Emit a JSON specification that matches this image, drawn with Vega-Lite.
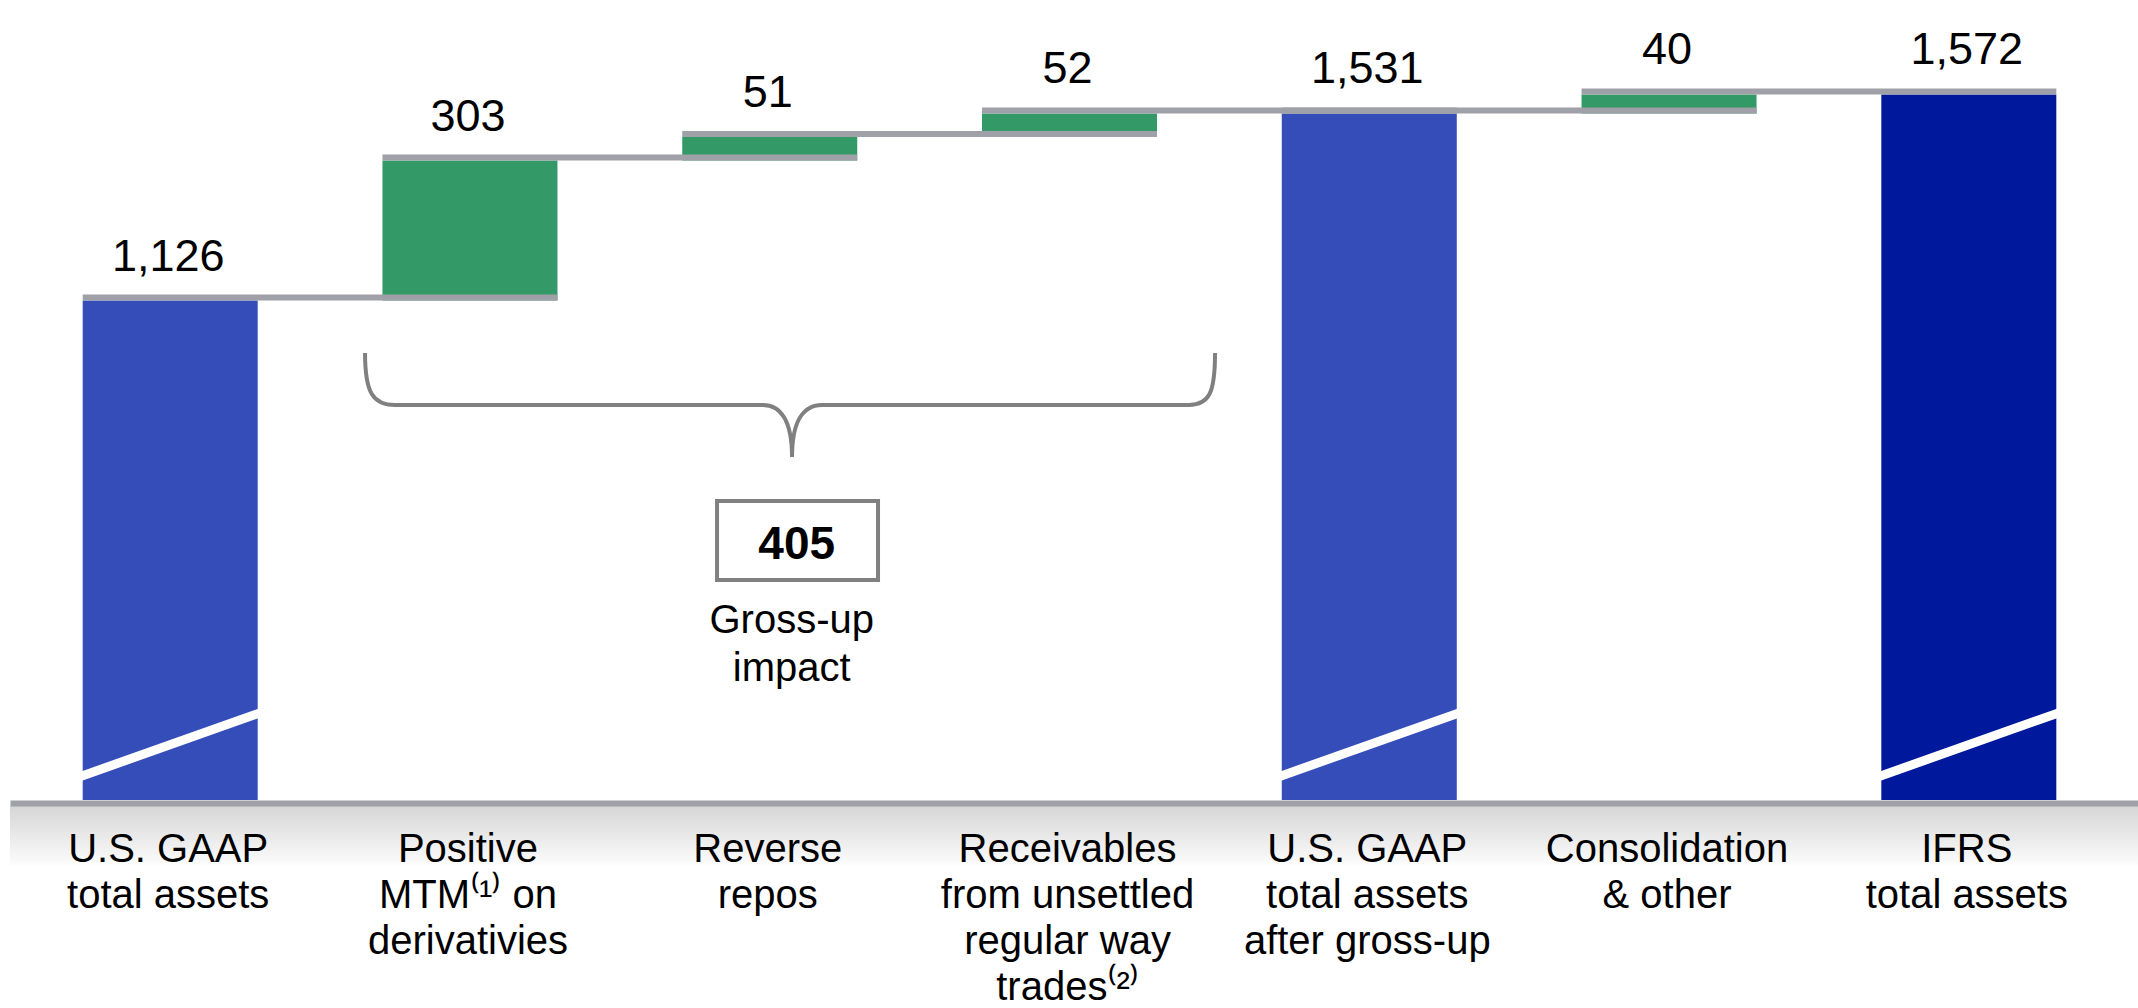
{
  "$schema": "https://vega.github.io/schema/vega-lite/v6.json",
  "width": 2128,
  "height": 800,
  "autosize": {"type": "none"},
  "padding": {"left": 10, "top": 0, "right": 0, "bottom": 208},
  "background": "#ffffff",
  "config": {"view": {"stroke": null}, "font": "Liberation Sans"},
  "datasets": {
    "steps": [
      {"label": "U.S. GAAP|total assets", "kind": "gaap", "start": 0, "end": 1126, "value": 1126, "next": "Positive|MTM⁽¹⁾ on|derivativies"},
      {"label": "Positive|MTM⁽¹⁾ on|derivativies", "kind": "increase", "start": 1126, "end": 1429, "value": 303, "next": "Reverse|repos"},
      {"label": "Reverse|repos", "kind": "increase", "start": 1429, "end": 1480, "value": 51, "next": "Receivables|from unsettled|regular way|trades⁽²⁾"},
      {"label": "Receivables|from unsettled|regular way|trades⁽²⁾", "kind": "increase", "start": 1480, "end": 1531, "value": 52, "next": "U.S. GAAP|total assets|after gross-up"},
      {"label": "U.S. GAAP|total assets|after gross-up", "kind": "gaap", "start": 0, "end": 1531, "value": 1531, "next": "Consolidation|& other"},
      {"label": "Consolidation|& other", "kind": "increase", "start": 1531, "end": 1572, "value": 40, "next": "IFRS|total assets"},
      {"label": "IFRS|total assets", "kind": "ifrs", "start": 0, "end": 1572, "value": 1572, "next": null}
    ],
    "note": [{"label": "Reverse|repos", "impact": 405, "caption": "Gross-up\nimpact"}],
    "band": [{"area": "axis"}]
  },
  "data": {"name": "steps"},
  "layer": [
    {
      "data": {"name": "band"},
      "mark": {"type": "rect", "fill": {"gradient": "linear", "x1": 0, "y1": 0, "x2": 0, "y2": 1, "stops": [{"offset": 0, "color": "#d6d6d6"}, {"offset": 0.9, "color": "#f9f9f9"}, {"offset": 1, "color": "#ffffff"}]}},
      "encoding": {
        "x": {"value": 0},
        "x2": {"value": "width"},
        "y": {"datum": 32, "type": "quantitative", "scale": {"domain": [45, 1776.4], "zero": false, "nice": false}, "axis": null},
        "y2": {"datum": -100}
      }
    },
    {
      "mark": {"type": "bar", "clip": true},
      "encoding": {
        "x": {
          "field": "label", "type": "nominal", "sort": null,
          "scale": {
            "domain": ["U.S. GAAP|total assets", "Positive|MTM⁽¹⁾ on|derivativies", "Reverse|repos", "Receivables|from unsettled|regular way|trades⁽²⁾", "U.S. GAAP|total assets|after gross-up", "Consolidation|& other", "IFRS|total assets"],
            "paddingInner": 0.4162, "paddingOuter": 0.2575, "align": 0.4709, "round": false
          },
          "axis": {
            "title": null, "ticks": false, "tickSize": 0, "grid": false,
            "domain": true, "domainColor": "#A0A0A8", "domainWidth": 6, "offset": 3,
            "labelFont": "Liberation Sans", "labelFontSize": 40, "labelColor": "#000000",
            "labelLineHeight": 46, "labelBaseline": "alphabetic", "labelPadding": 58,
            "labelLimit": 0, "labelAngle": 0, "labelOverlap": false, "labelOffset": -2,
            "labelExpr": "split(datum.label, '|')", "zindex": 1
          }
        },
        "y": {"field": "start", "type": "quantitative", "scale": {"domain": [45, 1776.4], "zero": false, "nice": false}, "axis": null},
        "y2": {"field": "end"},
        "color": {"field": "kind", "type": "nominal", "scale": {"domain": ["gaap", "increase", "ifrs"], "range": ["#344DB8", "#339966", "#00199C"]}, "legend": null}
      }
    },
    {
      "transform": [{"filter": "datum.kind != 'increase'"}],
      "mark": {"type": "rule", "color": "#ffffff", "strokeWidth": 9, "strokeCap": "square"},
      "encoding": {
        "x": {"field": "label", "type": "nominal", "bandPosition": 0},
        "x2": {"field": "label", "bandPosition": 1},
        "y": {"datum": 97.6, "type": "quantitative"},
        "y2": {"datum": 231.8}
      }
    },
    {
      "transform": [{"filter": "isValid(datum.next)"}],
      "mark": {"type": "rule", "color": "#A0A0A8", "strokeWidth": 6, "yOffset": -3},
      "encoding": {
        "x": {"field": "label", "type": "nominal", "bandPosition": 0},
        "x2": {"field": "next", "bandPosition": 1},
        "y": {"field": "end", "type": "quantitative"}
      }
    },
    {
      "mark": {"type": "text", "baseline": "alphabetic", "align": "center", "dy": -30, "dx": -2, "fontSize": 45, "color": "#000000"},
      "encoding": {
        "x": {"field": "label", "type": "nominal"},
        "y": {"field": "end", "type": "quantitative"},
        "text": {"field": "value", "type": "quantitative", "format": ","}
      }
    },
    {
      "data": {"name": "note"},
      "mark": {
        "type": "point",
        "shape": "M -4.047 -0.52 C -4.047 -0.12 -3.967 0 -3.747 0 L -0.067 0 C 0.103 0 0.223 0.15 0.223 0.52 C 0.223 0.15 0.343 0 0.523 0 L 4.193 0 C 4.393 0 4.453 -0.12 4.453 -0.52 M -0.527 0.96 L 1.083 0.96 L 1.083 1.75 L -0.527 1.75 Z",
        "size": 40000, "filled": false, "stroke": "#808080", "strokeWidth": 4, "opacity": 1
      },
      "encoding": {
        "x": {"field": "label", "type": "nominal"},
        "y": {"datum": 900, "type": "quantitative"}
      }
    },
    {
      "data": {"name": "note"},
      "mark": {"type": "text", "fontSize": 46, "fontWeight": "bold", "baseline": "alphabetic", "align": "center", "dx": 27, "color": "#000000"},
      "encoding": {
        "x": {"field": "label", "type": "nominal"},
        "y": {"datum": 566.6, "type": "quantitative"},
        "text": {"field": "impact", "type": "quantitative"}
      }
    },
    {
      "data": {"name": "note"},
      "mark": {"type": "text", "fontSize": 40, "lineHeight": 48, "lineBreak": "\n", "baseline": "alphabetic", "align": "center", "dx": 22, "color": "#000000"},
      "encoding": {
        "x": {"field": "label", "type": "nominal"},
        "y": {"datum": 407, "type": "quantitative"},
        "text": {"field": "caption", "type": "nominal"}
      }
    }
  ]
}
